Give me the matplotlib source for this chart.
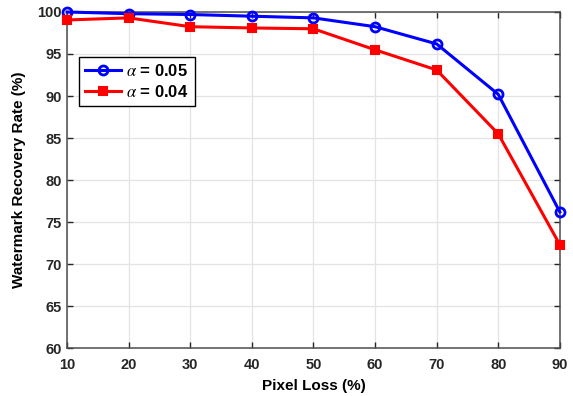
import matplotlib
matplotlib.use("Agg")
import matplotlib.pyplot as plt

pixel_loss = [10, 20, 30, 40, 50, 60, 70, 80, 90]
rate_a005 = [100.0, 99.8, 99.7, 99.5, 99.3, 98.25, 96.2, 90.2, 76.2]
rate_a004 = [99.05, 99.3, 98.25, 98.1, 98.0, 95.5, 93.1, 85.5, 72.3]
xticks = [10, 20, 30, 40, 50, 60, 70, 80, 90]
yticks = [60, 65, 70, 75, 80, 85, 90, 95, 100]

plt.rcParams['font.family'] = ['Liberation Sans', 'DejaVu Sans']
plt.rcParams['mathtext.fontset'] = 'stix'

fig = plt.figure(figsize=(5.73, 3.96), dpi=100)
ax = fig.add_axes([0.117, 0.1212, 0.860, 0.8485])

ax.plot(pixel_loss, rate_a005, color='#0000ff', lw=2.2, marker='o', ms=6.5,
        mfc='none', mew=2.0, label=r'$\alpha$ = 0.05', clip_on=False, zorder=3)
ax.plot(pixel_loss, rate_a004, color='#ff0000', lw=2.2, marker='s', ms=5.5,
        mfc='#ff0000', mew=1.5, label=r'$\alpha$ = 0.04', clip_on=False, zorder=3)

ax.set_xlim(10, 90)
ax.set_ylim(60, 100)
ax.set_xticks(xticks)
ax.set_yticks(yticks)
ax.grid(True, color='#e3e3e3', lw=0.9)
ax.set_axisbelow(True)
ax.tick_params(direction='in', top=True, right=True, length=4, width=1,
               colors='#262626', labelsize=10.5)
ax.tick_params(axis='x', pad=7)
ax.tick_params(axis='y', pad=4)
for lab in ax.get_xticklabels() + ax.get_yticklabels():
    lab.set_fontweight('bold')
for s in ax.spines.values():
    s.set_color('#4d4d4d')
    s.set_linewidth(1.1)

ax.set_xlabel('Pixel Loss (%)', fontsize=11, fontweight='bold', labelpad=5)
ax.set_ylabel('Watermark Recovery Rate (%)', fontsize=11, fontweight='bold', labelpad=8)

leg = ax.legend(loc='upper left', bbox_to_anchor=(0.024, 0.866), borderaxespad=0,
                fancybox=False, framealpha=1, edgecolor='black',
                prop={'weight': 'bold', 'size': 12},
                handlelength=2.2, borderpad=0.35, labelspacing=0.3, handletextpad=0.3)
leg.get_frame().set_linewidth(1.0)

fig.savefig('out.png', dpi=100)
